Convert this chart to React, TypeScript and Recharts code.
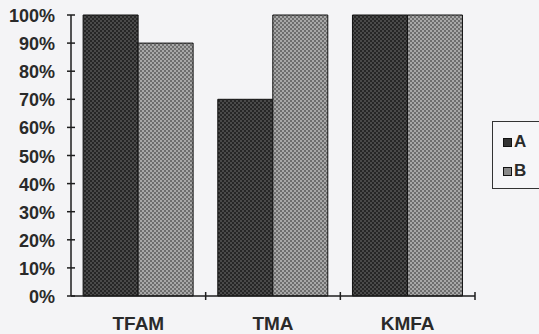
import React from 'react';
import { BarChart, Bar, XAxis, YAxis } from 'recharts';

const categories = ['TFAM', 'TMA', 'KMFA'];
const seriesA = [100, 70, 100];
const seriesB = [90, 100, 100];
const yTicks = [0, 10, 20, 30, 40, 50, 60, 70, 80, 90, 100];
const legendItems = ['A', 'B'];

const W = 539;
const H = 334;
const MARGIN = { top: 15, right: 64, bottom: 0, left: 0 };
const Y_AXIS_W = 71;
const X_AXIS_H = 38;
const HALF_BAND = (W - MARGIN.right - Y_AXIS_W) / categories.length / 2;

const FONT = '"Liberation Sans", Arial, sans-serif';
const AXIS_COLOR = '#1e1e1e';
const LEGEND_FILL: Record<string, string> = { A: '#333', B: '#888' };

const data = categories.map((name, i) => ({ name, A: seriesA[i], B: seriesB[i] }));

const YTick = (props: any) => {
  const { x, y, payload } = props;
  return (
    <g>
      <line x1={x - 4} x2={x + 4} y1={y} y2={y} stroke={AXIS_COLOR} strokeWidth={1.5} />
      <text
        x={x - 16}
        y={y + 1}
        textAnchor="end"
        dominantBaseline="central"
        fontFamily={FONT}
        fontWeight="bold"
        fontSize={18}
        fill="#2a2a2a"
      >
        {payload.value}%
      </text>
    </g>
  );
};

const XTick = (props: any) => {
  const { x, y, payload } = props;
  return (
    <g>
      <line x1={x + HALF_BAND} x2={x + HALF_BAND} y1={y - 4} y2={y + 4} stroke={AXIS_COLOR} strokeWidth={1.5} />
      <text
        x={x}
        y={y + 27}
        textAnchor="middle"
        dominantBaseline="central"
        fontFamily={FONT}
        fontWeight="bold"
        fontSize={19}
        fill="#2a2a2a"
      >
        {payload.value}
      </text>
    </g>
  );
};

const LegendBox = () => (
  <div
    style={{
      position: 'absolute',
      left: 492,
      top: 121,
      width: 60,
      height: 68,
      border: '1px solid #333',
      background: '#f6f6f8',
      fontFamily: FONT,
      fontWeight: 'bold',
      fontSize: 17,
      color: '#2a2a2a',
      boxSizing: 'border-box',
      paddingLeft: 10,
      paddingTop: 10,
    }}
  >
    {legendItems.map((key) => (
      <div key={key} style={{ display: 'flex', alignItems: 'center', height: 20, marginBottom: 9 }}>
        <svg width={9} height={9} style={{ marginRight: 2 }}>
          <rect x={0.5} y={0.5} width={8} height={8} fill={LEGEND_FILL[key]} stroke="#111" />
        </svg>
        <span>{key}</span>
      </div>
    ))}
  </div>
);

export default function App() {
  return (
    <div style={{ width: W, height: H, background: '#f4f4f6', position: 'relative', overflow: 'hidden' }}>
      <style>{`body{margin:0}`}</style>
      <BarChart width={W} height={H} data={data} margin={MARGIN} barCategoryGap="9%" barGap={0}>
        <defs>
          <pattern id="patA" width={4} height={4} patternUnits="userSpaceOnUse">
            <rect width={4} height={4} fill="#262626" />
            <rect width={2} height={2} fill="#4a4a4a" />
            <rect x={2} y={2} width={2} height={2} fill="#4a4a4a" />
          </pattern>
          <pattern id="patB" width={4} height={4} patternUnits="userSpaceOnUse">
            <rect width={4} height={4} fill="#6e6e6e" />
            <rect width={2} height={2} fill="#a8a8a8" />
            <rect x={2} y={2} width={2} height={2} fill="#a8a8a8" />
          </pattern>
        </defs>
        <XAxis
          dataKey="name"
          height={X_AXIS_H}
          tickSize={0}
          tickMargin={0}
          tickLine={false}
          tick={<XTick />}
          axisLine={{ stroke: AXIS_COLOR, strokeWidth: 1.5 }}
        />
        <YAxis
          width={Y_AXIS_W}
          domain={[0, 100]}
          ticks={yTicks}
          interval={0}
          tickSize={0}
          tickMargin={0}
          tickLine={false}
          tick={<YTick />}
          axisLine={{ stroke: AXIS_COLOR, strokeWidth: 1.5 }}
        />
        <Bar dataKey="A" fill="url(#patA)" stroke="#111" strokeWidth={1} isAnimationActive={false} />
        <Bar dataKey="B" fill="url(#patB)" stroke="#111" strokeWidth={1} isAnimationActive={false} />
      </BarChart>
      <LegendBox />
    </div>
  );
}
